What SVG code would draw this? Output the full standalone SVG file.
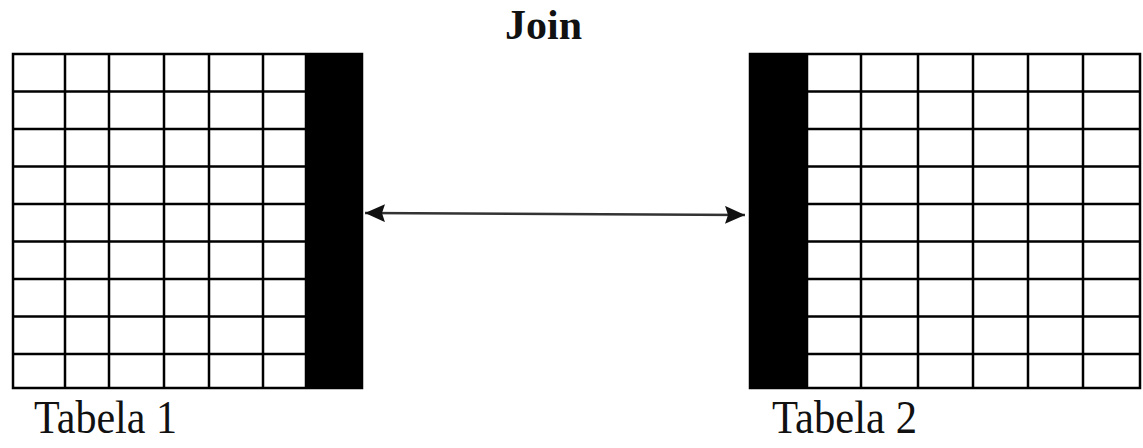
<svg xmlns="http://www.w3.org/2000/svg" width="1143" height="448" viewBox="0 0 1143 448">
  <style>
    .grid { stroke: #000; stroke-width: 2.5; fill: none; }
    .key { fill: #000; }
    .lbl { font-family: "Liberation Serif", "Times New Roman", serif; font-size: 46px; fill: #111; }
    .title { font-family: "Liberation Serif", "Times New Roman", serif; font-weight: bold; font-size: 43px; fill: #111; }
    .conn { stroke: #333; stroke-width: 2.6; fill: none; }
  </style>
  <defs>
    <marker id="ah" viewBox="0 0 20 18" refX="20" refY="9" markerWidth="20" markerHeight="18" markerUnits="userSpaceOnUse" orient="auto-start-reverse">
      <path d="M0,0 L20,9 L0,18 L3,9 Z" fill="#111"/>
    </marker>
  </defs>
  <rect width="1143" height="448" fill="#fff"/>

  <g id="title">
    <text class="title" x="505" y="39" textLength="77" lengthAdjust="spacingAndGlyphs">Join</text>
  </g>

  <g id="tabela1">
    <rect class="key" x="306" y="54" width="56" height="334"/>
    <rect class="grid" x="13" y="54" width="349" height="334"/>
    <path class="grid" d="M65,54V388 M109,54V388 M164,54V388 M209,54V388 M263,54V388 M306,54V388
      M13,91.5H306 M13,129H306 M13,166.5H306 M13,204H306 M13,241.5H306 M13,279H306 M13,316.5H306 M13,354H306"/>
    <text class="lbl" x="34" y="433" textLength="143" lengthAdjust="spacingAndGlyphs">Tabela 1</text>
  </g>

  <g id="tabela2">
    <rect class="key" x="750" y="54" width="57" height="334"/>
    <rect class="grid" x="750" y="54" width="390" height="334"/>
    <path class="grid" d="M807,54V388 M861,54V388 M918,54V388 M973,54V388 M1028,54V388 M1083,54V388
      M807,91.5H1140 M807,129H1140 M807,166.5H1140 M807,204H1140 M807,241.5H1140 M807,279H1140 M807,316.5H1140 M807,354H1140"/>
    <text class="lbl" x="772" y="433" textLength="145" lengthAdjust="spacingAndGlyphs">Tabela 2</text>
  </g>

  <g id="connectors">
    <line class="conn" x1="365" y1="213" x2="745" y2="215" marker-start="url(#ah)" marker-end="url(#ah)"/>
  </g>
</svg>
